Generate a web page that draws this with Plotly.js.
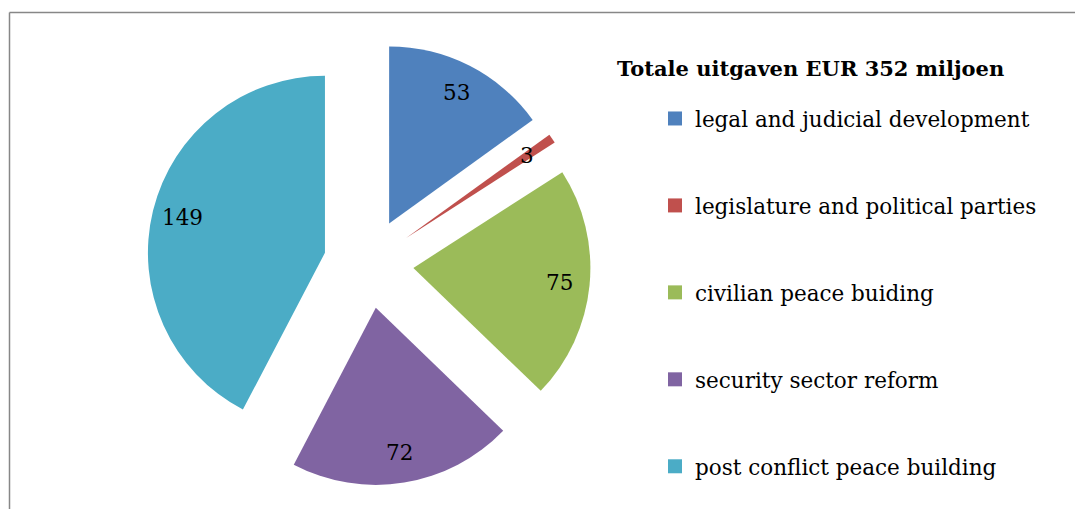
<!DOCTYPE html>
<html>
<head>
<meta charset="utf-8">
<script src="https://cdn.plot.ly/plotly-3.0.1.min.js"></script>
<style>html,body{margin:0;padding:0;background:#fff;}#chart{width:1075px;height:509px;}</style>
</head>
<body>
<div id="chart"></div>
<script>
const categories = [
  "legal and judicial development",
  "legislature and political parties",
  "civilian peace buiding",
  "security sector reform",
  "post conflict peace building"
];
const values = [53, 3, 75, 72, 149];
const colors = ["#4F81BD", "#C0504D", "#9BBB59", "#8064A2", "#4BACC6"];
const chartTitle = "Totale uitgaven EUR 352 miljoen";

const W = 1075, H = 509;
const FONT = "DejaVu Serif, Liberation Serif, serif";
const dom = {x: [0.1364, 0.5494], y: [0.0462, 0.9185]};
const pull = 0.254;
const labelFrac = 0.83;

// label positions derived from the data (slice bisectors)
const total = values.reduce((a, b) => a + b, 0);
const cx = W * (dom.x[0] + dom.x[1]) / 2;
const cy = H * (1 - (dom.y[0] + dom.y[1]) / 2);
const r = Math.min(W * (dom.x[1] - dom.x[0]), H * (dom.y[1] - dom.y[0])) / 2 / (1 + pull);
let cum = 0;
const annotations = values.map((v) => {
  const mid = (cum + v / 2) / total * 2 * Math.PI;
  cum += v;
  const d = (pull + labelFrac) * r;
  const px = cx + d * Math.sin(mid);
  const py = cy - d * Math.cos(mid);
  return {
    x: px / W, y: 1 - py / H, xref: "paper", yref: "paper",
    text: String(v), showarrow: false,
    xanchor: "center", yanchor: "middle",
    font: {family: FONT, size: 21.5, color: "#000"}
  };
});

const pie = {
  type: "pie",
  labels: categories,
  values: values,
  marker: {colors: colors, line: {width: 0}},
  sort: false,
  direction: "clockwise",
  rotation: 0,
  pull: pull,
  textinfo: "none",
  showlegend: false,
  domain: dom,
  hoverinfo: "label+value"
};

const legendTraces = categories.map((c, i) => ({
  type: "scatter", mode: "markers",
  x: [null], y: [null],
  name: c, legendgroup: "g" + i,
  marker: {symbol: "square", size: 14, color: colors[i]},
  hoverinfo: "skip"
}));

const layout = {
  width: W, height: H,
  margin: {l: 0, r: 0, t: 0, b: 0},
  paper_bgcolor: "#fff", plot_bgcolor: "#fff",
  xaxis: {visible: false, showgrid: false, zeroline: false},
  yaxis: {visible: false, showgrid: false, zeroline: false},
  title: {
    text: "<b>" + chartTitle + "</b>",
    x: 617 / W, xanchor: "left", xref: "paper",
    y: 1 - 69 / H, yanchor: "middle", yref: "paper",
    font: {family: FONT, size: 21, color: "#000"}
  },
  showlegend: true,
  legend: {
    x: 655 / W, xanchor: "left",
    y: 1 - 98 / H, yanchor: "top",
    traceorder: "grouped",
    tracegroupgap: 56,
    font: {family: FONT, size: 21.5, color: "#000"},
    bgcolor: "rgba(0,0,0,0)",
    itemclick: false, itemdoubleclick: false
  },
  annotations: annotations,
  shapes: [
    {type: "line", xref: "paper", yref: "paper", x0: 9.5 / W, x1: 1.05, y0: 1 - 12.5 / H, y1: 1 - 12.5 / H, line: {color: "#878787", width: 1.5}},
    {type: "line", xref: "paper", yref: "paper", x0: 9.5 / W, x1: 9.5 / W, y0: 1 - 12.5 / H, y1: -0.05, line: {color: "#878787", width: 1.5}}
  ]
};

Plotly.newPlot("chart", [pie].concat(legendTraces), layout, {displayModeBar: false, staticPlot: false});
</script>
</body>
</html>
